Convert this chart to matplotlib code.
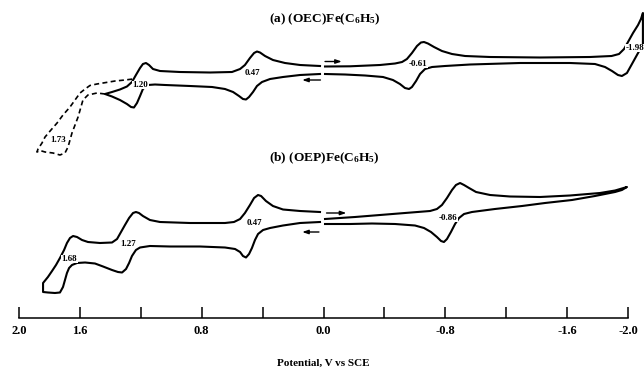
import matplotlib
matplotlib.use("Agg")
import matplotlib.pyplot as plt
import numpy as np

plt.rcParams['font.family'] = ['Liberation Serif', 'DejaVu Serif']
plt.rcParams['font.weight'] = 'bold'
plt.rcParams['mathtext.fontset'] = 'custom'
plt.rcParams['mathtext.rm'] = 'Liberation Serif:bold'
plt.rcParams['mathtext.it'] = 'Liberation Serif:bold'
plt.rcParams['mathtext.bf'] = 'Liberation Serif:bold'

# ---------------- data (potential in V vs SCE, current in arbitrary units) ----------------
# (a) (OEC)Fe(C6H5): scan from 0.0 V towards negative potentials and back (right half)
a_neg_V = [-0.010, -0.174, -0.371, -0.470, -0.516, -0.548, -0.581, -0.614, -0.640, -0.660,
           -0.686, -0.726, -0.778, -0.844, -0.930, -1.094, -1.422, -1.750, -1.892, -1.941,
           -1.974, -2.000, -2.033, -2.066, -2.085, -2.098,
           -2.098, -2.066, -2.026, -1.993, -1.960, -1.934, -1.895, -1.849, -1.783, -1.619,
           -1.291, -0.963, -0.798, -0.713, -0.667, -0.634, -0.608, -0.581, -0.562, -0.535,
           -0.502, -0.456, -0.391, -0.273, -0.141, -0.010]
a_neg_I = [3.5, 3.7, 5, 6.5, 8, 11, 17, 24, 27.5, 28,
           26.5, 23, 19, 16, 14, 13, 12.5, 13, 14, 16,
           21, 28, 37, 45, 51, 57,
           25, 17, 6, -3, -6, -5, -1, 3, 6, 7,
           7, 5.5, 4, 3, 1, -4, -11, -17, -19, -18,
           -14, -10, -7, -5.5, -4.5, -4]

# (a) positive scan, solid trace (switched at ~1.44 V)
a_pos_V = [0.023, 0.154, 0.266, 0.351, 0.404, 0.437, 0.463, 0.489, 0.509, 0.529,
           0.555, 0.594, 0.647, 0.732, 0.877, 1.040, 1.107, 1.153, 1.186, 1.205,
           1.225, 1.245, 1.264, 1.291, 1.337, 1.389, 1.435,
           1.389, 1.337, 1.291, 1.258, 1.232, 1.205, 1.186, 1.166, 1.146, 1.120,
           1.074, 0.943, 0.745, 0.601, 0.548, 0.516, 0.483, 0.456, 0.437, 0.417,
           0.384, 0.332, 0.253, 0.154, 0.023]
a_pos_I = [-4, -5, -7, -9, -12, -16, -22, -27, -29.5, -29,
           -26, -22, -19, -17, -16, -15, -14.5, -15, -19, -26,
           -33, -37.5, -37, -34, -30, -26.5, -24,
           -22, -19.5, -16.5, -12, -5, 2, 6, 7, 5, 1,
           -1, -2, -2.5, -2, 1, 5, 12, 17, 18.5, 17.5,
           14, 10, 7, 5, 4]

# (a) positive scan extended to ~1.88 V (dashed trace)
a_ext_V = [1.435, 1.488, 1.547, 1.580, 1.612, 1.652, 1.678, 1.698, 1.731, 1.777,
           1.829, 1.862, 1.882, 1.875, 1.849, 1.829, 1.790, 1.750, 1.711, 1.665,
           1.632, 1.599, 1.566, 1.534, 1.488, 1.448, 1.369, 1.304, 1.251]
a_ext_I = [-24, -23, -25, -30, -47, -63, -77, -83, -85, -83,
           -82, -80.5, -82, -79, -73, -67, -60, -53, -45, -37,
           -30, -23, -19, -15.5, -14, -13, -11, -10, -9]

# (b) (OEP)Fe(C6H5): negative scan
b_neg_V = [-0.010, -0.207, -0.535, -0.700, -0.745, -0.778, -0.811, -0.844, -0.870, -0.897,
           -0.923, -0.956, -1.002, -1.094, -1.225, -1.422, -1.619, -1.816, -1.915, -1.993,
           -1.960, -1.915, -1.783, -1.632, -1.455, -1.304, -1.126, -0.975, -0.923, -0.890,
           -0.864, -0.837, -0.811, -0.791, -0.772, -0.745, -0.706, -0.660, -0.601, -0.470,
           -0.318, -0.174, -0.010]
b_neg_I = [1, 3, 7, 9, 11, 15, 22, 30, 35, 37,
           35, 32, 28, 25, 23.5, 23, 24.5, 27, 29.5, 33,
           30, 28, 24, 20, 17, 14, 11, 8, 6, 2,
           -4, -12, -19, -22, -21, -17, -12, -8, -5.5, -4,
           -3.5, -4, -4]

# (b) positive scan
b_pos_V = [0.023, 0.154, 0.266, 0.351, 0.397, 0.430, 0.450, 0.470, 0.489, 0.509,
           0.529, 0.548, 0.581, 0.647, 0.811, 1.008, 1.140, 1.205, 1.232, 1.258,
           1.277, 1.297, 1.323, 1.350, 1.389, 1.448, 1.501, 1.566, 1.619, 1.652,
           1.671, 1.685, 1.698, 1.711, 1.731, 1.764, 1.810, 1.842,
           1.842, 1.810, 1.783, 1.757, 1.731, 1.704, 1.685, 1.665, 1.645, 1.619,
           1.586, 1.547, 1.468, 1.389, 1.356, 1.330, 1.304, 1.277, 1.251, 1.232,
           1.212, 1.186, 1.140, 1.074, 0.877, 0.647, 0.588, 0.548, 0.516, 0.483,
           0.456, 0.430, 0.410, 0.378, 0.332, 0.266, 0.154, 0.023]
b_pos_I = [-2, -3, -5.5, -8, -10, -14, -20, -28, -34, -37.5,
           -36, -32, -29, -27.5, -26.5, -26.5, -26, -27.5, -30, -36,
           -43, -49, -52.5, -52, -50, -46.5, -43.5, -42.5, -43, -45,
           -48, -53, -60, -67, -72.5, -73, -72.5, -72,
           -63, -57, -51, -45, -38, -30, -23, -18, -16, -17,
           -20, -22, -23, -22.5, -19, -12, -5, 2, 7, 8,
           7, 4, 0, -2, -3, -3, -2, 1, 7, 15,
           22, 25, 24, 19, 14, 10.5, 9, 8]

# peak-potential annotations
a_labels = ["1.73", "1.20", "0.47", "-0.61", "-1.98"]
a_label_V = [1.74, 1.203, 0.468, -0.620, -2.045]
a_label_I = [-70, -15, -3, 6, 22]
b_labels = ["1.68", "1.27", "0.47", "-0.86"]
b_label_V = [1.668, 1.28, 0.455, -0.820]
b_label_I = [-39, -24, -3, 2]

tick_values = [2.0, 1.6, 1.2, 0.8, 0.4, 0.0, -0.4, -0.8, -1.2, -1.6, -2.0]
tick_labels = ["2.0", "1.6", "", "0.8", "", "0.0", "", "-0.8", "", "-1.6", "-2.0"]

# ---------------- layout ----------------
W, H = 644, 369
X0_PX, SCALE = 323.5, 152.25          # pixel of 0 V, pixels per volt
BASE_A, BASE_B = H - 70, H - 220      # vertical baselines of the two traces
AXIS_PY = 318

fig = plt.figure(figsize=(W / 100, H / 100), dpi=100)
ax = fig.add_axes([0, 0, 1, 1])
ax.set_xlim(X0_PX / SCALE, (X0_PX - W) / SCALE)
ax.set_ylim(0, H)
ax.axis('off')

lw = 1.5
ax.plot(a_neg_V, BASE_A + np.array(a_neg_I), color='black', lw=lw, solid_joinstyle='round')
ax.plot(a_pos_V, BASE_A + np.array(a_pos_I), color='black', lw=lw, solid_joinstyle='round')
ax.plot(a_ext_V, BASE_A + np.array(a_ext_I), color='black', lw=1.2, linestyle=(0, (3.0, 2.0)))
ax.plot(b_neg_V, BASE_B + np.array(b_neg_I), color='black', lw=lw, solid_joinstyle='round')
ax.plot(b_pos_V, BASE_B + np.array(b_pos_I), color='black', lw=lw, solid_joinstyle='round')

lab_kw = dict(fontsize=6.5, fontweight='bold', ha='center', va='center', zorder=5,
              bbox=dict(facecolor='white', edgecolor='none', pad=0.3))
for t, v, i in zip(a_labels, a_label_V, a_label_I):
    ax.text(v, BASE_A + i, t, **lab_kw)
for t, v, i in zip(b_labels, b_label_V, b_label_I):
    ax.text(v, BASE_B + i, t, **lab_kw)

# scan-direction arrows
arr = dict(arrowstyle='-|>,head_length=0.35,head_width=0.12', color='black', lw=1.0,
           shrinkA=0, shrinkB=0)
ax.annotate('', xy=(-0.12, BASE_A + 8.5), xytext=(-0.01, BASE_A + 8.5), arrowprops=arr)
ax.annotate('', xy=(0.14, BASE_A - 10), xytext=(0.02, BASE_A - 10), arrowprops=arr)
ax.annotate('', xy=(-0.15, BASE_B + 7), xytext=(-0.02, BASE_B + 7), arrowprops=arr)
ax.annotate('', xy=(0.14, BASE_B - 12), xytext=(0.03, BASE_B - 12), arrowprops=arr)

# titles
ax.text(-0.005, H - 22.5, r"(a) (OEC)Fe(C$_\mathrm{6}$H$_\mathrm{5}$)", fontsize=9.6,
        fontweight='bold', ha='center', va='baseline')
ax.text(-0.005, H - 161.5, r"(b) (OEP)Fe(C$_\mathrm{6}$H$_\mathrm{5}$)", fontsize=9.6,
        fontweight='bold', ha='center', va='baseline')

# potential axis
x_left_px = X0_PX - SCALE * 2.0
x_right_px = X0_PX + SCALE * 2.0
axp = fig.add_axes([x_left_px / W, (H - AXIS_PY) / H, (x_right_px - x_left_px) / W, 0.05])
axp.set_xlim(2.0, -2.0)
axp.patch.set_alpha(0)
for s in ['top', 'left', 'right']:
    axp.spines[s].set_visible(False)
axp.spines['bottom'].set_linewidth(1.1)
axp.set_yticks([])
axp.set_xticks(tick_values)
axp.set_xticklabels(tick_labels, fontsize=9, fontweight='bold')
axp.tick_params(axis='x', direction='in', length=8, width=1.1, pad=5)
axp.set_xlabel("Potential, V vs SCE", fontsize=8, fontweight='bold', labelpad=16)

fig.savefig("out.png", dpi=100)
